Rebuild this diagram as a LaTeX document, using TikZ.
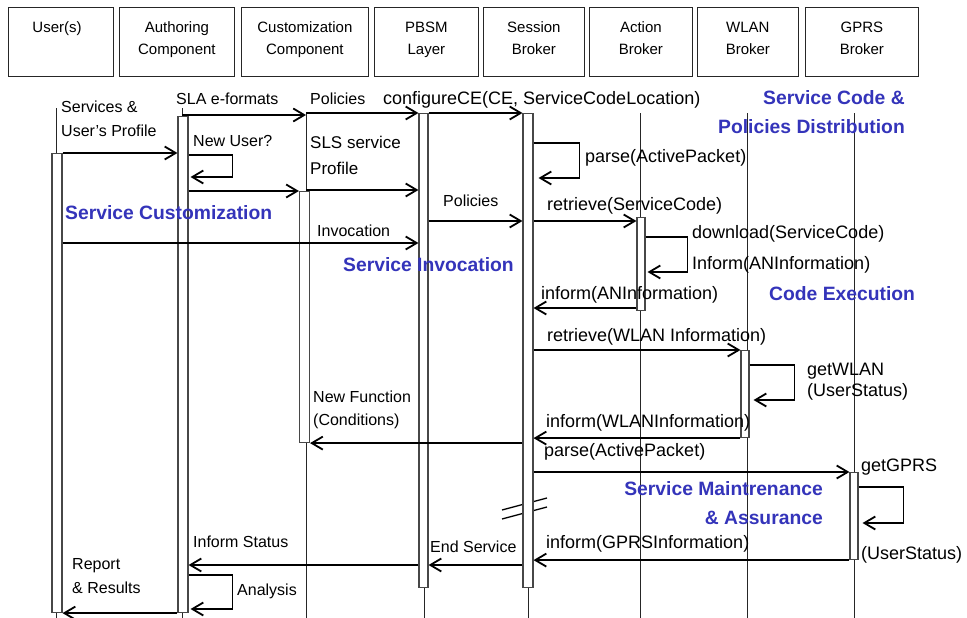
\documentclass[tikz,border=0pt]{standalone}
\usepackage{fontspec}
\setmainfont{Liberation Sans}
\usetikzlibrary{arrows.meta}
\definecolor{phaseblue}{RGB}{52,52,186}
\tikzset{
  lbl/.style={anchor=base west, inner sep=0pt, font=\fontsize{16}{19}\selectfont},
  lblm/.style={anchor=base west, inner sep=0pt, font=\fontsize{17}{20}\selectfont},
  lblr/.style={anchor=base west, inner sep=0pt, font=\fontsize{18}{21}\selectfont},
  phase/.style={inner sep=0pt, text=phaseblue, font=\fontsize{19.3}{22}\selectfont\bfseries},
  hdr/.style={draw=black!85, line width=0.8pt, minimum height=69pt, anchor=north west, inner sep=0pt},
  hdrtxt/.style={anchor=base, inner sep=0pt, font=\fontsize{15}{17}\selectfont},
  life/.style={line width=0.8pt, black!85},
  act/.style={draw=black!72, fill=white, line width=1.1pt, anchor=north, inner sep=0pt},
  msg/.style={line width=1.8pt, -{Straight Barb[length=11pt,width=13pt]}},
  brk/.style={line width=1.3pt}
}
\begin{document}
\begin{tikzpicture}[x=1pt,y=-1pt]
\useasboundingbox[fill=white] (0,0) rectangle (967,618);

% header boxes
\node[hdr, minimum width=105pt] (hU) at (8,7) {};
\node[hdr, minimum width=115pt] (hA) at (119,7) {};
\node[hdr, minimum width=127pt] (hC) at (241,7) {};
\node[hdr, minimum width=104pt] (hP) at (374,7) {};
\node[hdr, minimum width=101pt] (hS) at (483,7) {};
\node[hdr, minimum width=103pt] (hX) at (589,7) {};
\node[hdr, minimum width=101pt] (hW) at (697,7) {};
\node[hdr, minimum width=113pt] (hG) at (805,7) {};

\node[hdrtxt] (tU) at (57,33) {User(s)};
\node[hdrtxt] (tA1) at (hA.north |- 0,33) {Authoring};
\node[hdrtxt] (tA2) at (hA.north |- 0,55) {Component};
\node[hdrtxt] (tC1) at (hC.north |- 0,33) {Customization};
\node[hdrtxt] (tC2) at (hC.north |- 0,55) {Component};
\node[hdrtxt] (tP1) at (hP.north |- 0,33) {PBSM};
\node[hdrtxt] (tP2) at (hP.north |- 0,55) {Layer};
\node[hdrtxt] (tS1) at (hS.north |- 0,33) {Session};
\node[hdrtxt] (tS2) at (hS.north |- 0,55) {Broker};
\node[hdrtxt] (tX1) at (hX.north |- 0,33) {Action};
\node[hdrtxt] (tX2) at (hX.north |- 0,55) {Broker};
\node[hdrtxt] (tW1) at (hW.north |- 0,33) {WLAN};
\node[hdrtxt] (tW2) at (hW.north |- 0,55) {Broker};
\node[hdrtxt] (tG1) at (hG.north |- 0,33) {GPRS};
\node[hdrtxt] (tG2) at (hG.north |- 0,55) {Broker};

% lifelines
\coordinate (uL) at (56,108);
\coordinate (aL) at (182,108);
\coordinate (cL) at (306,113);
\coordinate (pL) at (424,113);
\coordinate (sL) at (528,113);
\coordinate (xL) at (640,113);
\coordinate (wL) at (747,113);
\coordinate (gL) at (854,113);
\foreach \l in {uL,aL,cL,pL,sL,xL,wL,gL}
  \draw[life] (\l) -- (\l |- 0,618);

% break marks on the long message
\draw[brk] (502,510) -- (547,498);
\draw[brk] (502,519) -- (547,507);

% activation bars
\node[act, minimum width=10pt, minimum height=459pt] (uA) at (57,153) {};
\node[act, minimum width=10pt, minimum height=496pt] (aA) at (183,116) {};
\node[act, minimum width=10pt, minimum height=251pt] (cA) at (304.5,191) {};
\node[act, minimum width=9pt,  minimum height=474pt] (pA) at (423.5,113) {};
\node[act, minimum width=10pt, minimum height=474pt] (sA) at (528,113) {};
\node[act, minimum width=8pt,  minimum height=93pt]  (xA) at (641,217) {};
\node[act, minimum width=8pt,  minimum height=87pt]  (wA) at (745,350) {};
\node[act, minimum width=8pt,  minimum height=87pt]  (gA) at (854,472) {};

% messages
\draw[msg] (uA.north east) -- (aA.west |- uA.north east);
\draw[msg] (aL |- 0,115) -- (cL |- 0,115);
\draw[msg] (aA.east |- 0,155) -- ++(44,0) -- ++(0,22) -- ++(-42,0);
\draw[msg] (aA.east |- 0,191) -- (cA.west |- 0,191);
\draw[msg] (cL) -- (pA.west |- cL);
\draw[msg] (cL |- 0,190) -- (pA.west |- 0,190);
\draw[msg] (pA.north east) -- (sA.north west);
\draw[msg] (sA.east |- 0,143) -- ++(46,0) -- ++(0,35) -- ++(-41,0);
\draw[msg] (pA.east |- 0,221) -- (sA.west |- 0,221);
\draw[msg] (sA.east |- 0,221) -- (xA.west |- 0,221);
\draw[msg] (uA.east |- 0,243) -- (pA.west |- 0,243);
\draw[msg] (xA.east |- 0,237) -- ++(42,0) -- ++(0,35) -- ++(-40,0);
\draw[msg] (xA.west |- 0,308) -- (sA.east |- 0,308);
\draw[msg] (sA.east |- wA.north west) -- (wA.north west);
\draw[msg] (wA.east |- 0,365) -- ++(45,0) -- ++(0,35) -- ++(-41,0);
\draw[msg] (wA.south west) -- (sA.east |- wA.south west);
\draw[msg] (sA.west |- cA.south east) -- (cA.south east);
\draw[msg] (sA.east |- gA.north west) -- (gA.north west);
\draw[msg] (gA.east |- 0,487) -- ++(45,0) -- ++(0,36) -- ++(-41,0);
\draw[msg] (gA.south west) -- (sA.east |- gA.south west);
\draw[msg] (sA.west |- 0,565) -- (pA.east |- 0,565);
\draw[msg] (pA.west |- 0,565) -- (aA.east |- 0,565);
\draw[msg] (aA.east |- 0,575) -- ++(44,0) -- ++(0,34) -- ++(-42,0);
\draw[msg] (aA.south west) -- (uA.south east);

% message labels
\node[lbl] (l1a) at (61,112) {Services \&};
\node[lbl] (l1b) at (61,136) {User’s Profile};
\node[lbl] (l2) at (176,104) {SLA e-formats};
\node[lbl] (l3) at (193,146) {New User?};
\node[lbl] (l5) at (310,104) {Policies};
\node[lblm] (l6a) at (310,148) {SLS service};
\node[lblm] (l6b) at (310,174) {Profile};
\node[lblr] (l7) at (383,104) {configureCE(CE, ServiceCodeLocation)};
\node[lblr] (l8) at (585,162) {parse(ActivePacket)};
\node[lbl] (l9) at (443,206) {Policies};
\node[lblr] (l10) at (547,210) {retrieve(ServiceCode)};
\node[lbl] (l11) at (317,236) {Invocation};
\node[lblr] (l12a) at (692,238) {download(ServiceCode)};
\node[lblr] (l12b) at (692,269) {Inform(ANInformation)};
\node[lblr] (l13) at (541,299) {inform(ANInformation)};
\node[lblr] (l14) at (547,341) {retrieve(WLAN Information)};
\node[lblr] (l15a) at (807,375) {getWLAN};
\node[lblr] (l15b) at (807,396) {(UserStatus)};
\node[lbl] (l17a) at (313,402) {New Function};
\node[lbl] (l17b) at (313,425) {(Conditions)};
\node[lblr] (l16) at (546,427) {inform(WLANInformation)};
\node[lblr] (l18) at (544,456) {parse(ActivePacket)};
\node[lblr] (l19a) at (861,471) {getGPRS};
\node[lblr] (l19b) at (861,559) {(UserStatus)};
\node[lblr] (l20) at (546,548) {inform(GPRSInformation)};
\node[lbl] (l21) at (430,552) {End Service};
\node[lbl] (l22) at (193,547) {Inform Status};
\node[lbl] (l23) at (237,595) {Analysis};
\node[lbl] (l24a) at (72,569) {Report};
\node[lbl] (l24b) at (72,593) {\& Results};

% phase titles
\node[phase, anchor=base east] (ph1a) at (905,105) {Service Code \&};
\node[phase, anchor=base east] (ph1b) at (905,133) {Policies Distribution};
\node[phase, anchor=base west] (ph2) at (65,219) {Service Customization};
\node[phase, anchor=base west] (ph3) at (343,271) {Service Invocation};
\node[phase, anchor=base west] (ph4) at (769,300) {Code Execution};
\node[phase, anchor=base east] (ph5a) at (823,495) {Service Maintrenance};
\node[phase, anchor=base east] (ph5b) at (823,524) {\& Assurance};
\end{tikzpicture}
\end{document}
